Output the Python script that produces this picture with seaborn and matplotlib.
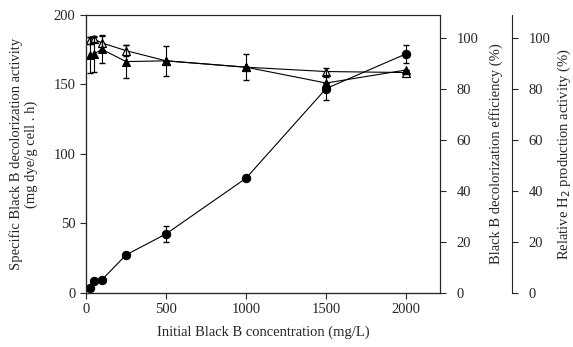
import numpy as np
import pandas as pd
import seaborn as sns
import matplotlib
matplotlib.use('Agg')
import matplotlib.pyplot as plt

# initial Black B concentration (mg/L)
conc = [25, 50, 100, 250, 500, 1000, 1500, 2000]

# specific decolorization activity (mg dye/g cell . h), filled circles
activity = [3.4, 8.6, 9.4, 27.3, 42.4, 82.5, 147, 172]
activity_err = [0, 0, 0, 0, 6, 0, 8, 6.5]

# decolorization efficiency (%), open triangles
efficiency = [99, 99.5, 98, 95, 91, 88.5, 86.8, 86.4]
efficiency_err = [1.5, 1, 2.7, 2.2, 0, 0, 1.4, 0.5]

# relative H2 production activity (%), filled triangles
h2_rel = [93.2, 93.7, 95.5, 90.7, 91, 88.5, 82.3, 87.4]
h2_err = [7, 7, 5.5, 6.5, 6, 5, 0, 0]

df = pd.DataFrame({'conc': conc, 'activity': activity,
                   'efficiency': efficiency, 'h2': h2_rel})

sns.set_style('ticks')
plt.rcParams['font.family'] = ['Liberation Serif', 'DejaVu Serif']
plt.rcParams['font.size'] = 10.5
plt.rcParams['xtick.direction'] = 'out'
plt.rcParams['ytick.direction'] = 'out'

fig = plt.figure(figsize=(5.73, 3.47), dpi=100)
ax = fig.add_axes([0.150, 0.156, 0.618, 0.801])
ax2 = ax.twinx()
ax3 = ax.twinx()
ax3.spines['right'].set_position(('axes', 1.203))

lw = 0.8
sns.lineplot(data=df, x='conc', y='activity', ax=ax, color='black', lw=lw,
             marker='o', markersize=6, markeredgecolor='black')
ax.errorbar(conc, activity, yerr=activity_err, fmt='none', ecolor='black',
            elinewidth=0.8, capsize=2.5)

sns.lineplot(data=df, x='conc', y='efficiency', ax=ax2, color='black', lw=lw,
             marker='^', markersize=5.5, markerfacecolor='white',
             markeredgecolor='black', markeredgewidth=0.9)
ax2.errorbar(conc, efficiency, yerr=efficiency_err, fmt='none', ecolor='black',
             elinewidth=0.8, capsize=2.5)

sns.lineplot(data=df, x='conc', y='h2', ax=ax3, color='black', lw=lw,
             marker='^', markersize=5.5, markeredgecolor='black')
ax3.errorbar(conc, h2_rel, yerr=h2_err, fmt='none', ecolor='black',
             elinewidth=0.8, capsize=2.5)

ax.set_xlim(0, 2212)
ax.set_ylim(0, 200)
ax.set_xticks([0, 500, 1000, 1500, 2000])
ax.set_yticks([0, 50, 100, 150, 200])
ax.set_xlabel('Initial Black B concentration (mg/L)', labelpad=7)
ax.set_ylabel('Specific Black B decolorization activity\n(mg dye/g cell . h)',
              va='center', ha='center')
ax.yaxis.set_label_coords(-0.176, 0.5)

for a in (ax2, ax3):
    a.set_ylim(0, 109)
    a.set_yticks([0, 20, 40, 60, 80, 100])
    a.tick_params(axis='y', length=4, pad=8)
ax2.set_ylabel('Black B decolorization efficiency (%)', va='center', ha='center')
ax2.yaxis.set_label_coords(1.158, 0.5)
ax3.set_ylabel('Relative H$_2$ production activity (%)', va='center', ha='center')
ax3.yaxis.set_label_coords(1.352, 0.5)

for a in (ax, ax2, ax3):
    for s in a.spines.values():
        s.set_linewidth(0.8)
ax.tick_params(length=4)
ax3.spines['top'].set_visible(False)

fig.savefig('out.png', dpi=100)
